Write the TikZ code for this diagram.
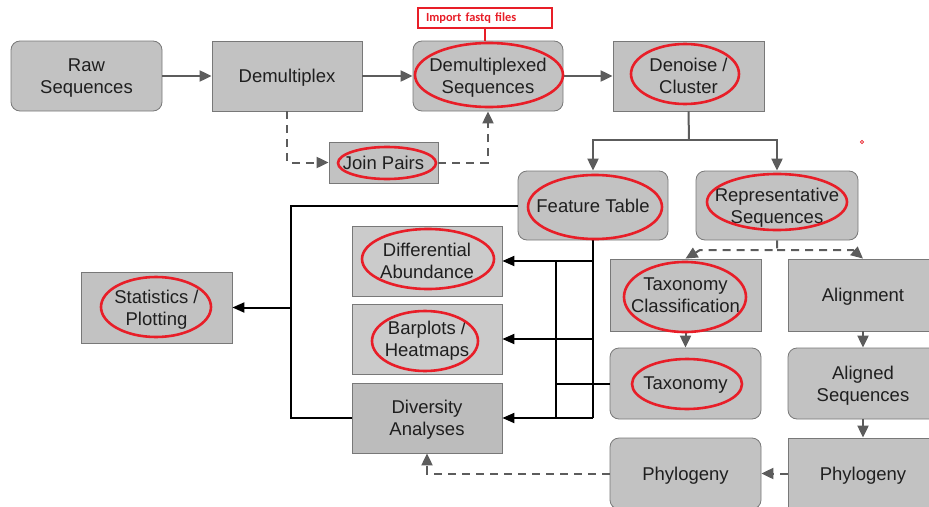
\documentclass[tikz,border=0pt]{standalone}
\usepackage{fontspec}
\setmainfont{Liberation Sans}
\newfontfamily\calib{Carlito}
\usetikzlibrary{arrows.meta}
\definecolor{boxfill}{RGB}{194,194,194}
\definecolor{boxlight}{RGB}{203,203,203}
\definecolor{boxdark}{RGB}{188,188,188}
\definecolor{boxline}{RGB}{120,120,120}
\definecolor{conngray}{RGB}{92,92,92}
\definecolor{annred}{RGB}{232,30,40}
\begin{document}
\begin{tikzpicture}[x=1pt,y=-1pt,
  box/.style={draw=boxline, line width=0.8pt, fill=boxfill, inner sep=0pt, align=center,
    text depth=0pt, font=\fontsize{18.5}{22}\selectfont, text=black!88},
  rbox/.style={box, rounded corners=9pt},
  conn/.style={draw=conngray, line width=2pt, -{Triangle[length=12pt,width=11pt]}},
  dconn/.style={conn, dash pattern=on 8pt off 6pt},
  bline/.style={draw=black, line width=2pt},
  barrow/.style={bline, -{Triangle[length=12pt,width=10pt]}},
  redov/.style={draw=annred, line width=2.6pt}]
\useasboundingbox (0,0) rectangle (929,506);
\clip (0,0) rectangle (929,506);

% nodes
\node[rbox, minimum width=151pt, minimum height=70pt] (raw) at (86.5,76) {Raw\\Sequences};
\node[box, minimum width=150pt, minimum height=70pt] (demux) at (287,76) {Demultiplex};
\node[rbox, minimum width=150pt, minimum height=70pt] (demuxseq) at (488,76) {Demultiplexed\\Sequences};
\node[box, minimum width=151pt, minimum height=70pt] (denoise) at (688.5,76) {Denoise /\\Cluster};
\node[box, minimum width=109pt, minimum height=41pt] (join) at (383.5,162.5) {Join Pairs};
\node[rbox, minimum width=150pt, minimum height=69pt] (feat) at (593,205.5) {Feature Table};
\node[rbox, minimum width=162pt, minimum height=69pt] (rep) at (777,205.5) {Representative\\Sequences};
\node[box, fill=boxlight, minimum width=150pt, minimum height=70pt] (diff) at (427,261) {Differential\\Abundance};
\node[box, fill=boxlight, minimum width=150pt, minimum height=70pt] (bar) at (427,339) {Barplots /\\Heatmaps};
\node[box, fill=boxdark, minimum width=150pt, minimum height=70pt] (div) at (427,418) {Diversity\\Analyses};
\node[box, minimum width=151pt, minimum height=71pt] (stats) at (156.5,307.5) {Statistics /\\Plotting};
\node[box, minimum width=151pt, minimum height=72pt] (taxcl) at (685.5,295) {Taxonomy\\Classification};
\node[box, minimum width=150pt, minimum height=72pt] (align) at (863,295) {Alignment};
\node[rbox, minimum width=151pt, minimum height=71pt] (tax) at (685.5,383.5) {Taxonomy};
\node[rbox, minimum width=150pt, minimum height=71pt] (alseq) at (863,383.5) {Aligned\\Sequences};
\node[rbox, minimum width=151pt, minimum height=71pt] (phyl) at (685.5,473.5) {Phylogeny};
\node[box, minimum width=150pt, minimum height=71pt] (phyr) at (863,473.5) {Phylogeny};
\node[draw=annred, line width=2.6pt, fill=white, text width=118pt, align=left, minimum height=20pt,
  inner xsep=8pt, inner ysep=0pt, text=annred, font=\calib\bfseries\fontsize{12.4}{14}\selectfont]
  (import) at (485,18) {Import fastq files};

% coordinates
\coordinate (split) at (689,140);
\coordinate (repmid) at (777,250);
\coordinate (repl) at (700,250);
\coordinate (repr) at (853,250);
\coordinate (stathub) at (291,307.5);
\coordinate (ftop) at (593,261);
\coordinate (fmid) at (593,339);
\coordinate (fbot) at (593,418);
\coordinate (vtop) at (556,261);
\coordinate (vbot) at (556,418);
\coordinate (vtax) at (556,383.5);

% gray connectors
\draw[conn] (raw) -- (demux);
\draw[conn] (demux) -- (demuxseq);
\draw[conn] (demuxseq) -- (denoise);
\draw[dconn] (demux.south) |- (join.west);
\draw[dconn] (join.east) -| (demuxseq.south);
\draw[draw=conngray, line width=2pt] (denoise.south) -- (split);
\draw[conn] (split) -| (feat.north);
\draw[conn] (split) -| (rep.north);
\draw[dconn] (rep.south) -- (repmid) -- (repl) -- (taxcl.north);
\draw[dconn] (repmid) -- (repr) -- (align.north);
\draw[conn] (taxcl) -- (tax);
\draw[conn] (align) -- (alseq);
\draw[conn] (alseq) -- (phyr);
\draw[dconn] (phyr) -- (phyl);
\draw[dconn] (phyl.west) -| (div.south);

% black connectors
\draw[bline] (feat.west) -| (stathub) |- (div.west);
\draw[barrow] (stathub) -- (stats.east);
\draw[bline] (feat.south) -- (fbot);
\draw[barrow] (ftop) -- (diff.east);
\draw[barrow] (fmid) -- (bar.east);
\draw[barrow] (fbot) -- (div.east);
\draw[bline] (vtop) -- (vbot);
\draw[bline] (tax.west) -- (vtax);

% red annotations
\draw[annred, line width=2.6pt] (import.south -| 485,0) -- (demuxseq.north -| 485,0);
\draw[redov] (489,75) ellipse [x radius=74, y radius=32];
\draw[redov] (685,74) ellipse [x radius=54, y radius=30];
\draw[redov] (387,163) ellipse [x radius=49, y radius=16];
\draw[redov] (595,207) ellipse [x radius=67, y radius=32];
\draw[redov] (777,202) ellipse [x radius=70, y radius=28];
\draw[redov] (428,259) ellipse [x radius=66, y radius=30];
\draw[redov] (425,341) ellipse [x radius=53, y radius=30];
\draw[redov] (156,307) ellipse [x radius=55, y radius=30];
\draw[redov] (685,297) ellipse [x radius=61, y radius=35];
\draw[redov] (687,384) ellipse [x radius=55, y radius=25];
\draw[annred, line width=0.6pt] (862,142) circle [radius=1.6];
\end{tikzpicture}
\end{document}
